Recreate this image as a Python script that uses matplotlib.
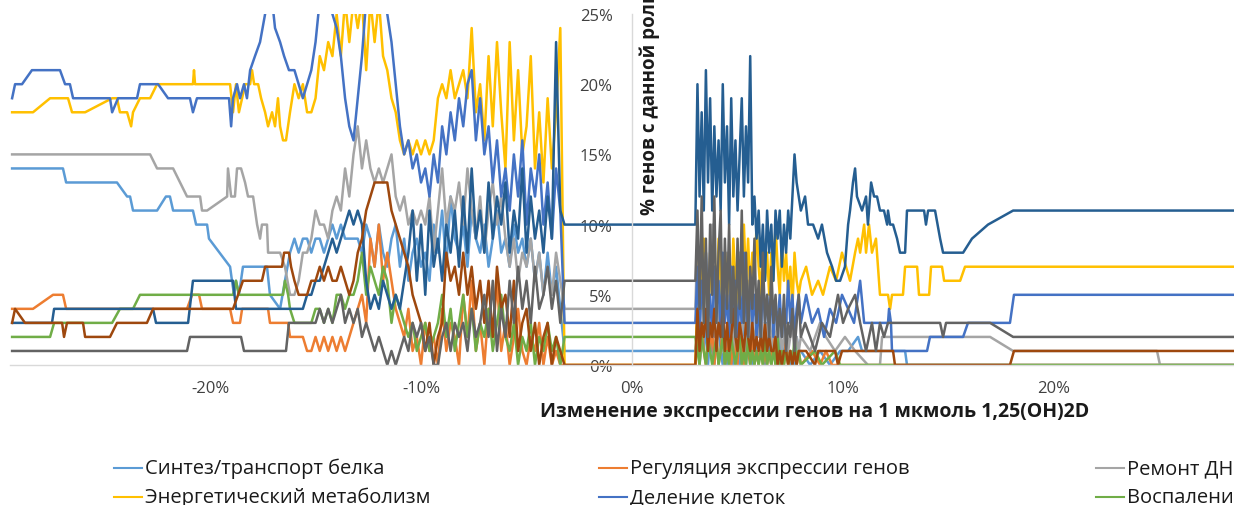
import matplotlib
matplotlib.use("Agg")
import matplotlib.pyplot as plt
from matplotlib.lines import Line2D
from matplotlib.ticker import FixedLocator, FuncFormatter

plt.rcParams['font.family'] = ['Open Sans', 'DejaVu Sans']

W, H = 1234, 506

legend_labels = ["Синтез/транспорт белка", "Регуляция экспрессии генов", "Ремонт ДНК",
                 "Энергетический метаболизм", "Деление клеток", "Воспаление"]
colors = ["#5B9BD5", "#ED7D31", "#A5A5A5", "#FFC000", "#4472C4", "#70AD47",
          "#255E91", "#9E480E", "#636363"]

x_ticks = [-20, -10, 0, 10, 20]
y_ticks = [0, 5, 10, 15, 20, 25]

# change in expression (%) for the densely sampled stretches
left_grid = [-16.0, -15.8, -15.6, -15.4, -15.2, -15.0, -14.8, -14.6, -14.4, -14.2,
             -14.0, -13.8, -13.6, -13.4, -13.2, -13.0, -12.8, -12.6, -12.4, -12.2,
             -12.0, -11.8, -11.6, -11.4, -11.2, -11.0, -10.8, -10.6, -10.4, -10.2,
             -10.0, -9.8, -9.6, -9.4, -9.2, -9.0, -8.8, -8.6, -8.4, -8.2,
             -8.0, -7.8, -7.6, -7.4, -7.2, -7.0, -6.8, -6.6, -6.4, -6.2,
             -6.0, -5.8, -5.6, -5.4, -5.2, -5.0, -4.8, -4.6, -4.4, -4.2,
             -4.0, -3.8, -3.6, -3.4, -3.2]
right_grid = [3.0, 3.1, 3.2, 3.3, 3.4, 3.5, 3.6, 3.7, 3.8, 3.9,
              4.0, 4.1, 4.2, 4.3, 4.4, 4.5, 4.6, 4.7, 4.8, 4.9,
              5.0, 5.1, 5.2, 5.3, 5.4, 5.5, 5.6, 5.7, 5.8, 5.9,
              6.0, 6.1, 6.2, 6.3, 6.4, 6.5, 6.6, 6.7, 6.8, 6.9,
              7.0, 7.1, 7.2, 7.3, 7.4, 7.5, 7.6, 7.7, 7.8, 7.9,
              8.0]

# --- Синтез/транспорт белка ---
protein_head = [(-29.38, 14), (-26.97, 14), (-26.82, 13), (-24.50, 13), (-24.41, 13),
                (-23.93, 12), (-23.79, 12), (-23.65, 11), (-22.51, 11), (-22.09, 12),
                (-21.90, 12), (-21.75, 11), (-20.81, 11), (-20.66, 10), (-20.14, 10),
                (-20.05, 9), (-19.05, 7), (-18.96, 6), (-18.86, 5), (-18.77, 6),
                (-18.63, 5), (-18.44, 7), (-17.30, 7), (-17.16, 5), (-16.68, 4),
                (-16.45, 6), (-16.21, 8)]
protein_left = [9, 8, 9, 9, 8, 9, 9, 8, 9, 10,
                9, 10, 9, 9, 9, 9, 8, 10, 9, 7,
                10, 8, 7, 9, 10, 7, 9, 6, 8, 9,
                7, 8, 6, 10, 8, 11, 7, 12, 9, 8,
                10, 7, 11, 9, 8, 10, 7, 9, 11, 8,
                9, 7, 10, 8, 9, 7, 9, 6, 8, 5,
                8, 5, 7, 4, 1]
protein_right = [1, 3, 0, 2, 1, 3, 0, 2, 1, 0,
                 2, 3, 1, 0, 2, 0, 1, 3, 0, 2,
                 1, 0, 2, 3, 0, 2, 1, 0, 2, 1,
                 0, 2, 1, 0, 3, 1, 0, 2, 1, 0,
                 2, 0, 1, 2, 1, 0, 1, 0, 2, 1,
                 1]
protein_tail = [(8.44, 0), (8.91, 1), (9.38, 0), (9.86, 1), (10.24, 1), (10.71, 2),
                (10.90, 1), (12.94, 1), (13.03, 0), (29.8, 0)]

# --- Регуляция экспрессии генов ---
regulation_head = [(-29.38, 4), (-28.39, 4), (-27.44, 5), (-26.97, 5), (-26.82, 4),
                   (-21.09, 4), (-20.85, 5), (-20.52, 5), (-20.38, 4), (-19.05, 4),
                   (-18.91, 3), (-18.58, 3), (-18.48, 4), (-17.25, 4), (-17.16, 3),
                   (-16.30, 3), (-16.21, 2)]
regulation_left = [2, 2, 2, 1, 1, 2, 1, 2, 1, 2,
                   1, 2, 1, 2, 3, 4, 5, 3, 9, 7,
                   10, 6, 8, 6, 4, 3, 2, 4, 1, 2,
                   0, 3, 1, 2, 0, 4, 1, 3, 2, 0,
                   5, 2, 6, 1, 3, 0, 4, 2, 6, 1,
                   3, 0, 2, 4, 1, 0, 2, 1, 3, 0,
                   2, 0, 1, 0, 0]
regulation_right = [0, 2, 0, 3, 1, 0, 2, 1, 3, 0,
                    2, 0, 1, 3, 0, 1, 2, 0, 2, 1,
                    0, 3, 1, 0, 2, 1, 0, 2, 0, 1,
                    0, 2, 0, 1, 0, 1, 0, 2, 0, 1,
                    0, 1, 0, 2, 0, 1, 0, 1, 0, 1,
                    0]
regulation_tail = [(8.53, 1), (8.91, 0), (9.19, 1), (9.48, 0), (29.8, 0)]

# --- Ремонт ДНК ---
repair_head = [(-29.38, 15), (-22.84, 15), (-22.51, 14), (-21.75, 14), (-21.42, 13),
               (-21.09, 12), (-20.47, 12), (-20.38, 11), (-20.14, 11), (-19.19, 12),
               (-19.15, 14), (-19.00, 12), (-18.82, 12), (-18.72, 14), (-18.53, 14),
               (-18.34, 13), (-18.20, 12), (-17.96, 12), (-17.77, 10), (-17.63, 9),
               (-17.54, 10), (-17.30, 10), (-17.25, 8), (-16.68, 8), (-16.45, 7),
               (-16.21, 5)]
repair_left = [5, 6, 8, 8, 9, 11, 10, 10, 9, 11,
               12, 11, 14, 12, 15, 17, 14, 16, 14, 13,
               14, 13, 14, 15, 12, 11, 12, 10, 11, 10,
               11, 10, 12, 8, 11, 14, 10, 12, 11, 13,
               10, 14, 11, 9, 12, 8, 11, 13, 10, 12,
               9, 7, 9, 6, 8, 7, 9, 6, 8, 5,
               7, 5, 8, 6, 4]
repair_right = [4, 9, 2, 7, 3, 8, 1, 6, 10, 2,
                7, 3, 9, 1, 5, 8, 2, 6, 1, 7,
                3, 8, 2, 5, 1, 6, 2, 4, 1, 3,
                2, 4, 1, 3, 2, 4, 1, 3, 2, 1,
                3, 1, 2, 4, 1, 2, 3, 1, 2, 1,
                2]
repair_tail = [(8.44, 1), (8.91, 3), (9.19, 2), (9.62, 1), (10.09, 2), (10.57, 1),
               (11.18, 0), (11.75, 0), (11.85, 2), (16.97, 2), (18.06, 1), (24.88, 1),
               (25.02, 0), (29.8, 0)]

# --- Энергетический метаболизм ---
energy_head = [(-29.38, 18), (-28.39, 18), (-27.58, 19), (-26.73, 19), (-26.54, 18),
               (-25.92, 18), (-24.64, 19), (-24.41, 19), (-24.27, 18), (-23.93, 18),
               (-23.74, 17), (-23.65, 18), (-23.32, 19), (-22.84, 19), (-22.51, 20),
               (-20.81, 20), (-20.76, 21), (-20.71, 20), (-19.05, 20), (-18.91, 18),
               (-18.77, 20), (-18.63, 18), (-18.48, 19), (-18.34, 20), (-18.10, 20),
               (-18.01, 21), (-17.91, 20), (-17.72, 20), (-17.58, 19), (-17.39, 18),
               (-17.25, 17), (-17.06, 18), (-16.92, 17), (-16.78, 19), (-16.68, 17),
               (-16.54, 16), (-16.40, 16), (-16.21, 18)]
energy_left = [20, 19, 20, 18, 18, 19, 22, 21, 23, 22,
               25, 22, 26, 23, 26, 24, 26, 21, 26, 23,
               26, 22, 21, 19, 18, 16, 15, 16, 15, 16,
               15, 16, 15, 16, 19, 20, 19, 21, 19, 20,
               21, 19, 24, 18, 20, 16, 22, 17, 23, 18,
               14, 23, 16, 21, 15, 17, 22, 14, 18, 13,
               19, 14, 18, 24, 0]
energy_right = [0, 5, 8, 4, 9, 6, 3, 8, 5, 7,
                4, 9, 6, 3, 8, 5, 7, 4, 9, 6,
                3, 7, 5, 10, 6, 9, 5, 8, 6, 10,
                7, 5, 9, 6, 8, 5, 8, 6, 10, 7,
                5, 9, 6, 8, 5, 7, 4, 8, 6, 5,
                6]
energy_tail = [(8.25, 7), (8.53, 5), (8.82, 6), (9.05, 5), (9.38, 7), (9.67, 6),
               (9.95, 8), (10.14, 7), (10.33, 6), (10.57, 8), (10.71, 9), (10.81, 8),
               (11.00, 10), (11.09, 8), (11.23, 10), (11.37, 8), (11.56, 9), (11.75, 5),
               (12.13, 5), (12.23, 4), (12.32, 5), (12.84, 5), (12.94, 7), (13.51, 7),
               (13.60, 5), (14.08, 5), (14.17, 7), (14.69, 7), (14.79, 6), (15.55, 6),
               (15.78, 7), (29.8, 7)]

# --- Деление клеток ---
division_head = [(-29.38, 19), (-29.24, 20), (-28.91, 20), (-28.44, 21), (-27.11, 21),
                 (-26.87, 20), (-26.64, 20), (-26.49, 19), (-24.74, 19), (-24.64, 18),
                 (-24.36, 19), (-23.46, 19), (-23.32, 20), (-22.46, 20), (-21.99, 19),
                 (-20.95, 19), (-20.81, 18), (-20.62, 19), (-19.10, 19), (-19.00, 17),
                 (-18.91, 19), (-18.72, 20), (-18.58, 19), (-18.39, 20), (-18.25, 19),
                 (-18.10, 21), (-17.87, 22), (-17.63, 23), (-17.39, 25), (-17.25, 26),
                 (-17.06, 26), (-16.92, 24), (-16.68, 23), (-16.49, 22), (-16.26, 21)]
division_left = [21, 20, 19, 20, 21, 23, 26, 26, 26, 25,
                 24, 22, 19, 17, 16, 19, 22, 26, 26, 27,
                 26, 26, 25, 23, 20, 17, 15, 16, 14, 15,
                 13, 14, 12, 15, 13, 17, 15, 18, 16, 19,
                 17, 20, 21, 16, 19, 15, 17, 13, 16, 12,
                 14, 11, 15, 12, 16, 10, 14, 12, 15, 10,
                 13, 9, 14, 11, 3]
division_right = [3, 7, 2, 6, 4, 8, 3, 5, 2, 7,
                  4, 6, 2, 8, 3, 5, 2, 7, 3, 6,
                  2, 5, 3, 8, 4, 2, 6, 3, 5, 2,
                  4, 2, 6, 3, 5, 3, 5, 2, 4, 3,
                  5, 2, 4, 3, 6, 3, 5, 2, 4, 5,
                  3]
division_tail = [(8.25, 5), (8.53, 3), (8.82, 4), (9.10, 2), (9.38, 4), (9.67, 3),
                 (9.95, 5), (10.24, 4), (10.52, 3), (10.81, 6), (11.00, 3), (12.13, 3),
                 (12.18, 4), (12.27, 3), (12.32, 1), (13.98, 1), (14.12, 2), (15.69, 2),
                 (15.92, 3), (17.91, 3), (18.10, 5), (29.8, 5)]

# --- Воспаление ---
inflammation_head = [(-29.38, 2), (-27.58, 2), (-27.39, 3), (-24.64, 3), (-24.27, 4),
                     (-23.65, 4), (-23.32, 5), (-18.91, 5), (-18.77, 6), (-18.63, 5),
                     (-16.54, 5), (-16.45, 6), (-16.30, 5), (-16.21, 4)]
inflammation_left = [3, 3, 3, 3, 3, 4, 4, 3, 4, 3,
                     5, 5, 4, 5, 5, 6, 8, 5, 7, 6,
                     5, 7, 6, 3, 5, 4, 3, 2, 3, 1,
                     2, 3, 1, 2, 3, 5, 2, 4, 1, 3,
                     5, 2, 4, 1, 3, 2, 4, 1, 3, 5,
                     2, 1, 3, 0, 2, 1, 3, 0, 2, 1,
                     3, 1, 2, 0, 2]
inflammation_right = [2, 1, 0, 2, 1, 0, 2, 1, 0, 1,
                      2, 0, 1, 2, 0, 1, 0, 2, 1, 0,
                      1, 2, 0, 1, 0, 2, 0, 1, 0, 1,
                      0, 1, 0, 2, 0, 1, 0, 1, 0, 2,
                      0, 1, 0, 1, 0, 1, 0, 2, 0, 1,
                      0]
inflammation_tail = [(8.67, 1), (9.00, 0), (9.62, 1), (9.86, 0), (29.8, 0)]

# --- series 7 ---
group7_head = [(-29.38, 3), (-27.49, 3), (-27.39, 4), (-22.70, 4), (-22.56, 3),
               (-21.04, 3), (-20.81, 6), (-18.91, 6), (-18.77, 4), (-16.21, 4)]
group7_left = [4, 4, 4, 5, 5, 6, 6, 7, 8, 9,
               8, 9, 10, 11, 10, 11, 10, 6, 4, 5,
               4, 6, 5, 4, 5, 4, 6, 8, 11, 6,
               10, 5, 11, 7, 9, 6, 10, 8, 11, 7,
               12, 8, 14, 9, 11, 8, 13, 9, 12, 10,
               13, 8, 11, 9, 14, 8, 12, 9, 11, 8,
               12, 9, 23, 11, 10]
group7_right = [10, 20, 12, 18, 11, 21, 13, 19, 11, 17,
                12, 16, 11, 20, 13, 17, 10, 19, 12, 16,
                11, 15, 19, 12, 17, 13, 22, 10, 12, 9,
                11, 7, 10, 6, 11, 8, 10, 6, 11, 9,
                11, 7, 10, 8, 11, 9, 12, 15, 13, 12,
                11]
group7_tail = [(8.20, 12), (8.34, 10), (8.58, 10), (8.82, 9), (9.00, 10), (9.24, 8),
               (9.48, 7), (9.67, 6), (9.86, 6), (10.09, 7), (10.24, 10), (10.33, 11),
               (10.47, 13), (10.57, 14), (10.66, 12), (10.90, 11), (11.09, 12), (11.18, 10),
               (11.33, 13), (11.47, 12), (11.61, 12), (11.75, 11), (11.94, 11), (12.09, 10),
               (12.13, 11), (12.23, 10), (12.37, 10), (12.56, 9), (12.70, 8), (12.94, 8),
               (13.03, 11), (13.84, 11), (13.93, 10), (14.03, 11), (14.36, 11), (14.60, 9),
               (14.74, 8), (15.69, 8), (16.11, 9), (16.87, 10), (18.06, 11), (29.8, 11)]

# --- series 8 ---
group8_head = [(-29.38, 3), (-29.24, 4), (-28.77, 3), (-27.01, 3), (-26.92, 2),
               (-26.78, 3), (-26.02, 3), (-25.92, 2), (-24.74, 2), (-24.41, 3),
               (-22.99, 3), (-22.70, 4), (-18.91, 4), (-18.67, 5), (-18.44, 6),
               (-17.54, 6), (-17.39, 7), (-16.59, 7), (-16.49, 8), (-16.26, 8),
               (-16.16, 7)]
group8_left = [6, 5, 5, 5, 6, 6, 7, 6, 7, 6,
               6, 7, 6, 5, 6, 8, 9, 11, 12, 13,
               13, 13, 13, 11, 10, 9, 8, 7, 5, 4,
               3, 1, 3, 0, 2, 3, 8, 6, 7, 5,
               8, 5, 7, 4, 6, 3, 6, 2, 7, 4,
               5, 2, 6, 1, 3, 4, 1, 3, 0, 2,
               3, 0, 2, 1, 0]
group8_right = [0, 4, 1, 3, 2, 4, 1, 3, 2, 4,
                1, 3, 2, 4, 1, 3, 1, 2, 4, 2,
                1, 3, 2, 1, 3, 2, 1, 3, 1, 2,
                1, 2, 1, 3, 1, 2, 1, 1, 2, 0,
                1, 0, 1, 1, 0, 1, 0, 1, 0, 1,
                1]
group8_tail = [(8.25, 1), (8.67, 0), (8.82, 1), (9.62, 1), (9.76, 0), (9.95, 1),
               (12.37, 1), (12.46, 0), (17.91, 0), (18.10, 1), (29.8, 1)]

# --- series 9 ---
group9_head = [(-29.38, 1), (-21.09, 1), (-20.95, 2), (-18.53, 2), (-18.39, 1),
               (-16.40, 1), (-16.26, 3)]
group9_left = [3, 3, 3, 3, 3, 3, 4, 3, 4, 3,
               4, 5, 3, 4, 3, 4, 2, 3, 2, 1,
               2, 1, 0, 1, 0, 1, 2, 1, 3, 2,
               3, 1, 2, 0, 0, 2, 3, 1, 3, 2,
               3, 1, 4, 2, 3, 5, 2, 6, 1, 4,
               2, 6, 3, 7, 4, 6, 3, 7, 4, 5,
               7, 4, 6, 3, 6]
group9_right = [6, 11, 4, 12, 3, 9, 2, 10, 5, 12,
                3, 8, 11, 2, 9, 4, 10, 3, 7, 2,
                9, 4, 11, 3, 8, 2, 7, 4, 9, 3,
                6, 2, 8, 3, 5, 2, 7, 3, 5, 2,
                4, 2, 5, 1, 3, 2, 4, 1, 3, 5,
                2]
group9_tail = [(8.20, 3), (8.67, 1), (9.00, 3), (9.38, 2), (9.76, 5), (10.00, 3),
               (10.24, 4), (10.57, 5), (10.81, 3), (11.09, 1), (11.37, 3), (11.56, 1),
               (11.75, 3), (11.94, 2), (12.13, 3), (14.60, 3), (14.74, 2), (14.88, 3),
               (16.97, 3), (18.06, 2), (29.8, 2)]

series = [
    (protein_head, protein_left, protein_right, protein_tail),
    (regulation_head, regulation_left, regulation_right, regulation_tail),
    (repair_head, repair_left, repair_right, repair_tail),
    (energy_head, energy_left, energy_right, energy_tail),
    (division_head, division_left, division_right, division_tail),
    (inflammation_head, inflammation_left, inflammation_right, inflammation_tail),
    (group7_head, group7_left, group7_right, group7_tail),
    (group8_head, group8_left, group8_right, group8_tail),
    (group9_head, group9_left, group9_right, group9_tail),
]


def fx(px):
    return px / W


def fy(py):
    return 1 - py / H


fig = plt.figure(figsize=(W / 100, H / 100), dpi=100)
fig.patch.set_facecolor("white")

ax = fig.add_axes([fx(10), fy(366), (1260 - 10) / W, (366 - 15) / H])
for (head, left, right, tail), color in zip(series, colors):
    xs = [p[0] for p in head] + left_grid + right_grid + [p[0] for p in tail]
    ys = [p[1] for p in head] + list(left) + list(right) + [p[1] for p in tail]
    ax.plot(xs, ys, color=color, lw=1.8, solid_joinstyle="round")

ax.set_xlim(-29.48, 29.76)
ax.set_ylim(0, 25)

for side in ("top", "right"):
    ax.spines[side].set_visible(False)
ax.spines["left"].set_position(("data", 0))
ax.spines["left"].set_color("#D9D9D9")
ax.spines["bottom"].set_color("#D9D9D9")
ax.spines["left"].set_linewidth(1.0)
ax.spines["bottom"].set_linewidth(1.0)

pct = FuncFormatter(lambda v, _: f"{v:.0f}%")
ax.xaxis.set_major_locator(FixedLocator(x_ticks))
ax.yaxis.set_major_locator(FixedLocator(y_ticks))
ax.xaxis.set_major_formatter(pct)
ax.yaxis.set_major_formatter(pct)
ax.tick_params(axis="both", length=0, labelsize=12, labelcolor="#404040")
ax.tick_params(axis="y", pad=14)
ax.tick_params(axis="x", pad=11)

fig.text(fx(815), fy(412), "Изменение экспрессии генов на 1 мкмоль 1,25(OH)2D",
         ha="center", va="center", fontsize=14, fontweight="bold", color="#1a1a1a")
fig.text(fx(650), fy(215), "% генов с данной ролью", rotation=90,
         ha="center", va="bottom", fontsize=13.5, fontweight="bold", color="#1a1a1a")

# legend laid out in rows of three, as in the workbook
col_text_x = [145, 630, 1127]
row_y = [469, 498]
for i, name in enumerate(legend_labels):
    r, c = divmod(i, 3)
    tx = col_text_x[c]
    ty = row_y[r]
    fig.add_artist(Line2D([fx(tx - 31), fx(tx - 3)], [fy(ty), fy(ty)],
                          color=colors[i], lw=1.5, transform=fig.transFigure))
    fig.text(fx(tx), fy(ty), name, ha="left", va="center", fontsize=14.5, color="#1a1a1a")

fig.savefig("out.png", dpi=100, facecolor="white")
